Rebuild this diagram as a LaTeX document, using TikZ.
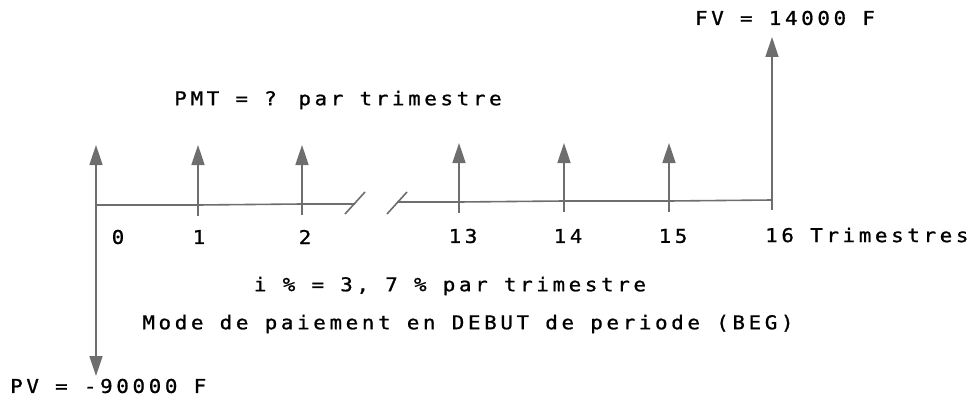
\documentclass[tikz,border=0pt]{standalone}
\usepackage{fontspec}
\setmainfont{DejaVu Sans Mono}[LetterSpace=19,FakeStretch=1.1,FakeBold=1]
\usetikzlibrary{arrows.meta}
\definecolor{ink}{RGB}{110,110,110}
\begin{document}
\begin{tikzpicture}[x=1pt,y=-1pt,
  axis/.style={draw=ink, line width=1.6pt},
  flow/.style={axis, -{Triangle[length=20pt,width=13pt]}},
  lbl/.style={inner sep=0pt, text=black, font=\fontsize{19}{19}\selectfont},
  ]
\useasboundingbox (0,0) rectangle (973,401);
% tick coordinates on axis
\coordinate (t0) at (96,205);
\coordinate (t1) at (198,205);
\coordinate (t2) at (302,204);
\coordinate (b1) at (355,204);
\coordinate (b2) at (397,202);
\coordinate (t13) at (459,202);
\coordinate (t14) at (564,201);
\coordinate (t15) at (669,201);
\coordinate (t16) at (772,200);
% axis
\draw[axis] (t0) -- (t1) -- (t2) -- (b1);
\draw[axis] (b2) -- (t13) -- (t14) -- (t15) -- (t16);
% break slashes
\draw[axis] (345,214) -- (365,192);
\draw[axis] (387,214) -- (407,192);
% ticks below axis
\foreach \n in {t1,t2}{\draw[axis] (\n) -- ++(0,11);}
\foreach \n in {t13,t14,t15}{\draw[axis] (\n) -- ++(0,11);}
\draw[axis] (t16) -- ++(0,10);
% coordinates of arrow tips
\coordinate (u0) at (96,145);
\coordinate (d0) at (96,376);
\coordinate (u1) at (198,145);
\coordinate (u2) at (302,145);
\coordinate (u13) at (459,143);
\coordinate (u14) at (564,143);
\coordinate (u15) at (669,143);
\coordinate (u16) at (772,37);
\draw[flow] (t0) -- (u0);
\draw[flow] (t0) -- (d0);
\draw[flow] (t1) -- (u1);
\draw[flow] (t2) -- (u2);
\draw[flow] (t13) -- (u13);
\draw[flow] (t14) -- (u14);
\draw[flow] (t15) -- (u15);
\draw[flow] (t16) -- (u16);
% labels
\node[lbl] (n0) at (118,237) {0};
\node[lbl] (n1) at (199,237) {1};
\node[lbl] (n2) at (305,237) {2};
\node[lbl] (n13) at (463,236) {13};
\node[lbl] (n14) at (568,236) {14};
\node[lbl] (n15) at (673,236) {15};
\node[lbl,anchor=west] (n16) at (765,235) {16 Trimestres};
\node[lbl] (fv) at (785,18) {FV = 14000 F};
\node[lbl] (pmt) at (338,100) {PMT = ? par trimestre};
\node[lbl] (ir) at (450,286) {i \% = 3, 7 \% par trimestre};
\node[lbl] (mode) at (468,324) {Mode de paiement en DEBUT de periode (BEG)};
\node[lbl,anchor=west] (pv) at (10,386) {PV = -90000 F};
\end{tikzpicture}
\end{document}
